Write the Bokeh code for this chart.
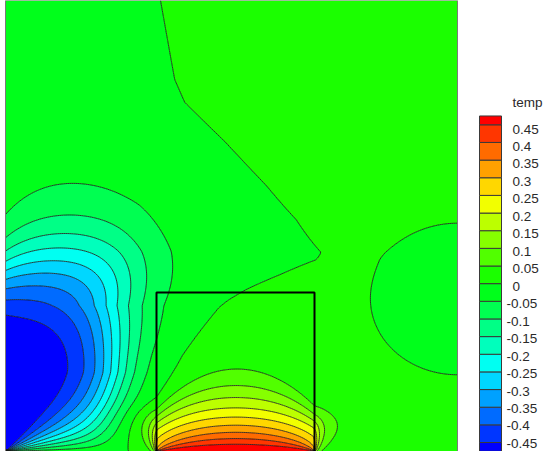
import numpy as np
from bokeh.plotting import figure
from bokeh.models import ColumnDataSource, Range1d
from bokeh.embed import file_html
from bokeh.resources import INLINE
from bokeh.core.properties import value

# ------------------------------------------------------------------ data
# band edges of the filled contours and the 20 band colours (bottom to top)
levels = [-1.0, -0.45, -0.4, -0.35, -0.3, -0.25, -0.2, -0.15, -0.1, -0.05, 0.0,
          0.05, 0.1, 0.15, 0.2, 0.25, 0.3, 0.35, 0.4, 0.45, 1.0]
band_colors = ["#0000ff", "#0036ff", "#006bff", "#00a1ff", "#00d7ff", "#00fff2",
               "#00ffbc", "#00ff86", "#00ff51", "#00ff1b", "#1bff00", "#51ff00",
               "#86ff00", "#bcff00", "#f2ff00", "#ffd700", "#ffa100", "#ff6b00",
               "#ff3600", "#ff0000"]
# colour-bar band limits (end bands are drawn half height) and tick labels
cb_bottoms = [-0.475, -0.45, -0.4, -0.35, -0.3, -0.25, -0.2, -0.15, -0.1, -0.05,
              0.0, 0.05, 0.1, 0.15, 0.2, 0.25, 0.3, 0.35, 0.4, 0.45]
cb_tops = [-0.45, -0.4, -0.35, -0.3, -0.25, -0.2, -0.15, -0.1, -0.05, 0.0,
           0.05, 0.1, 0.15, 0.2, 0.25, 0.3, 0.35, 0.4, 0.45, 0.475]
tick_values = [0.45, 0.4, 0.35, 0.3, 0.25, 0.2, 0.15, 0.1, 0.05, 0.0,
               -0.05, -0.1, -0.15, -0.2, -0.25, -0.3, -0.35, -0.4, -0.45]
tick_labels = ["0.45", "0.4", "0.35", "0.3", "0.25", "0.2", "0.15", "0.1", "0.05", "0",
               "-0.05", "-0.1", "-0.15", "-0.2", "-0.25", "-0.3", "-0.35", "-0.4", "-0.45"]
colorbar_title = "temp"

# field description (domain in pixel units)
domain_size = [452, 451]
box = [151, 309, 0, 159]                 # heated block: left, right, bottom, top
hot_value = 0.5                          # temperature of heated bottom segment
hot_tail = [0.12, 5.0]                   # edge tail amplitude, length
hot_stretch = [2.5, 6.0]                 # vertical stretch, lateral stretch outside
hot_decay = [76, 40, 3.5]                # decay length centre, at walls, power
cold_value = -0.5                        # cold lower part of the left wall
cold_top = [178, 12, 22, 8, 80]          # top height, rise, width, width rise, bump x
cold_edge_y = [0, 79, 146, 200, 247, 300]
cold_edge_x = [100, 112, 110, 130, 140, 130]
cold_width_y = [0, 79, 146, 200, 300]
cold_width = [13, 16, 22, 24, 24]
zero_line_y = [0, 39, 96, 144, 151, 162, 177, 192, 199, 232, 266, 309, 349, 372, 451]
zero_line_x = [124, 127, 160, 207, 217, 237, 270, 300, 304, 287, 260, 220, 179, 169, 155]
background_amp = 0.018
right_blob = [452, 152.5, 104.5, 91]     # centre x, centre y, radius x, radius y

# ------------------------------------------------------------------ field
W, Hh = domain_size
xs = np.linspace(0, W, 227)
ys = np.linspace(0, Hh, 227)
XX, YY = np.meshgrid(xs, ys)

# hot segment at the bottom of the block
x1, x2 = box[0], box[1]
s, so = hot_stretch
Xw = np.where(XX < x1, x1 - so * (x1 - XX), np.where(XX > x2, x2 + so * (XX - x2), XX))
Yw = s * YY


def seg(a, b):
    return (np.arctan2(b - Xw, Yw) - np.arctan2(a - Xw, Yw)) / np.pi


Hot = hot_value * seg(x1, x2)
amp, lt = hot_tail
for k in range(220):
    d0, d1 = float(k), float(k + 1)
    v = amp * np.exp(-(d0 + d1) / 2 / (so * lt))
    Hot += v * seg(x1 - d1, x1 - d0) + v * seg(x2 + d0, x2 + d1)
u = np.clip((XX - (x1 + x2) / 2) / ((x2 - x1) / 2), -1, 1)
lam = hot_decay[1] + (hot_decay[0] - hot_decay[1]) * (1 - u ** 2)
Hot *= np.exp(-(YY / lam) ** hot_decay[2])

# cold plume fed by the lower left wall
phi = np.arctan2(YY, XX)
phin = np.clip(phi / (np.pi / 2), 0, 1)
fang = 1 - (1 - phin) ** 3
bump = (XX / cold_top[4]) * np.exp(1 - XX / cold_top[4])
Y0 = cold_top[0] + cold_top[1] * bump
sy = cold_top[2] + cold_top[3] * bump
A = 1 / (1 + np.exp((YY - Y0) / sy))
Xc = np.interp(YY, cold_edge_y, cold_edge_x)
sx = np.interp(YY, cold_width_y, cold_width)
B = 1 / (1 + np.exp((XX - Xc) / sx))
Cold = cold_value * fang * A * B

# weak background around the zero line
X0 = np.interp(YY, zero_line_y, zero_line_x)
Bk = background_amp * np.tanh((XX - X0) / 40.0)
Bk -= 2 * background_amp * np.exp(-((XX - right_blob[0]) / right_blob[2]) ** 2
                                  - ((YY - right_blob[1]) / right_blob[3]) ** 2)

T = Hot + Cold + Bk

# ------------------------------------------------------------------ figure
p = figure(width=550, height=451, x_range=Range1d(-5, 545), y_range=Range1d(0, 451),
           output_backend="svg", toolbar_location=None, min_border=0,
           x_axis_location=None, y_axis_location=None)
p.grid.visible = False
p.outline_line_color = None
p.background_fill_color = "white"
p.border_fill_color = "white"

p.contour(x=xs, y=ys, z=T, levels=levels, fill_color=band_colors,
          line_color="#151515", line_width=1.0, line_alpha=0.8)

# domain outline and block outline
p.quad(left=[0], right=[W], bottom=[-5], top=[Hh], fill_alpha=0,
       line_color="#7a7a7a", line_width=1)
p.quad(left=[box[0]], right=[box[1]], bottom=[box[2] - 5], top=[box[3]], fill_alpha=0,
       line_color="black", line_width=2)

# colour bar
cb_x0, cb_x1 = 474, 496
cb_base, cb_step = 9.0, 17.65


def cb_y(v):
    return cb_base + (np.asarray(v) + 0.45) / 0.05 * cb_step


cb_src = ColumnDataSource(dict(bottom=cb_y(cb_bottoms), top=cb_y(cb_tops),
                               color=band_colors))
p.quad(left=cb_x0, right=cb_x1, bottom="bottom", top="top", fill_color="color",
       line_color="#3a3a3a", line_width=1, source=cb_src)

tv = np.asarray(tick_values)
lab_y = cb_y(tv) - 4.2 + (0.45 - tv) / 0.05 * 0.18
lab_src = ColumnDataSource(dict(x=np.where(tv < 0, 501, 507), y=lab_y,
                                text=tick_labels))
p.text(x="x", y="y", text="text", source=lab_src, text_font=value("Liberation Sans"),
       text_font_size="13.5px", text_baseline="middle", text_align="left",
       text_color="#2a2a2a")
p.text(x=[507], y=[349], text=[colorbar_title], text_font=value("Liberation Sans"),
       text_font_size="13.5px", text_baseline="middle", text_align="left",
       text_color="#2a2a2a")

open("out.html", "w").write(file_html(p, INLINE))
